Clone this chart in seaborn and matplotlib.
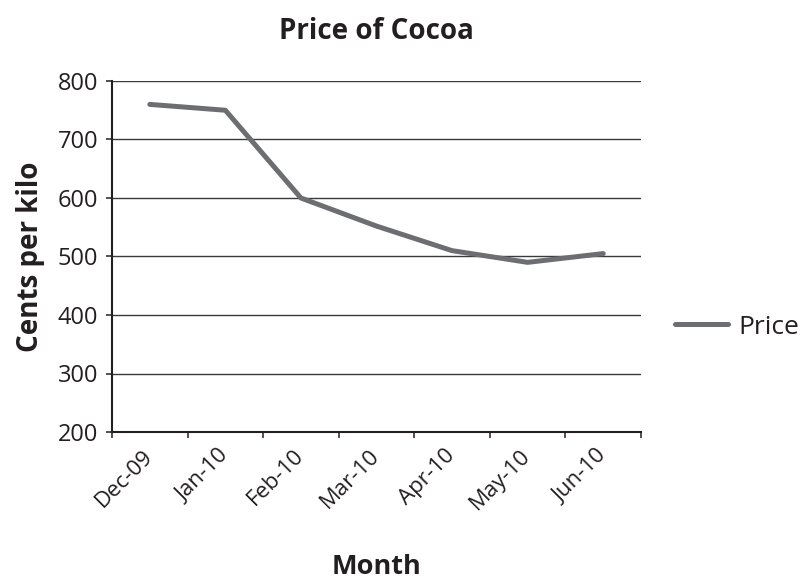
import matplotlib
matplotlib.use("Agg")
import matplotlib.pyplot as plt
import seaborn as sns
import pandas as pd
import numpy as np

months = ["Dec-09", "Jan-10", "Feb-10", "Mar-10", "Apr-10", "May-10", "Jun-10"]
prices = [760, 750, 600, 552, 510, 490, 505]
y_ticks = [200, 300, 400, 500, 600, 700, 800]

sns.set_theme(style="white")
plt.rcParams['font.family'] = ['Open Sans', 'DejaVu Sans']

text_color = "#231f20"
line_color = "#6d6e71"
grid_color = "#3a3a3a"

df = pd.DataFrame({"Month": months, "Price": prices})

fig = plt.figure(figsize=(8.05, 5.84), dpi=100)
ax = fig.add_axes([112/805, 1-432/584, (641-112)/805, (432-81)/584])

sns.lineplot(data=df, x="Month", y="Price", ax=ax, color=line_color, linewidth=3.6,
             sort=False, legend=False)

ax.set_ylim(200, 800)
ax.set_xlim(-0.5, len(months) - 0.5)
ax.set_yticks(y_ticks)
ax.set_yticklabels([str(v) for v in y_ticks], fontsize=17, color=text_color)
for v in y_ticks[1:]:
    ax.axhline(v, color=grid_color, linewidth=1.0, zorder=0)

ax.set_xticks(range(len(months)))
ax.set_xticklabels(months, rotation=45, ha="right", va="center",
                   rotation_mode="anchor", fontsize=16, color=text_color)
ax.tick_params(axis="x", which="major", length=0, pad=15)
ax.set_xticks(np.arange(-0.5, len(months), 1.0), minor=True)
ax.tick_params(axis="x", which="minor", length=4.5, width=1.1, color=text_color,
               direction="out", bottom=True)
ax.tick_params(axis="y", length=4.5, width=1.1, color=text_color, direction="out",
               left=True, pad=5.5)

for s in ["top", "right"]:
    ax.spines[s].set_visible(False)
for s in ["left", "bottom"]:
    ax.spines[s].set_color(text_color)
    ax.spines[s].set_linewidth(1.5)

ax.set_xlabel("Month", fontsize=19.5, fontweight="bold", color=text_color)
ax.xaxis.set_label_coords(0.5, -0.347)
ax.set_ylabel("Cents per kilo", fontsize=20, fontweight="bold", color=text_color)
ax.yaxis.set_label_coords(-0.127, 0.5)
ax.set_title("Price of Cocoa", fontsize=20, fontweight="bold", color=text_color, pad=30)

handle = plt.Line2D([], [], color=line_color, linewidth=3.6)
fig.legend([handle], ["Price"], loc="center left",
           bbox_to_anchor=(675/805, 1-327/584), frameon=False, fontsize=19,
           handlelength=2.0, handletextpad=0.42, borderpad=0, borderaxespad=0,
           labelcolor=text_color)

fig.savefig("out.png", dpi=100)
